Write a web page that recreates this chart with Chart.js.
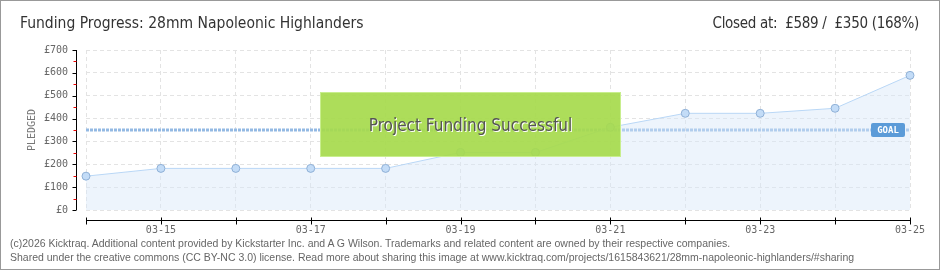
<!DOCTYPE html>
<html>
<head>
<meta charset="utf-8">
<script src="https://cdn.jsdelivr.net/npm/chart.js@4"></script>
<style>
	body { margin: 0; background: #fff; }
	#wrap { position: relative; width: 940px; height: 270px; overflow: hidden; }
	#chart { position: absolute; left: 0; top: 0; }
	#frame { position: absolute; inset: 0; border: 1px solid #999; box-sizing: border-box; pointer-events: none; }
	.title { position: absolute; top: 14px; font: 15.5px "Liberation Sans Narrow", "DejaVu Sans Condensed", sans-serif; color: #333; white-space: nowrap; }
	#title-left { left: 20px; }
	#title-right { right: 21px; font-size: 15px; letter-spacing: -0.3px; }
	.foot { position: absolute; left: 10px; font: 10.5px "Liberation Sans", sans-serif; color: #666; white-space: nowrap; }
	#success { position: absolute; left: 320px; top: 92px; width: 301px; height: 65px; box-sizing: border-box;
		background: rgba(166,218,76,0.92); border: 1px solid #c8ee8e;
		font: 17px "Liberation Sans Narrow", "DejaVu Sans Condensed", sans-serif; color: #555; text-shadow: 1px 1px 0 #fff;
		display: flex; align-items: center; justify-content: center; }
</style>
</head>
<body>
<div id="wrap">
	<canvas id="chart" width="940" height="270"></canvas>
	<div class="title" id="title-left">Funding Progress: 28mm Napoleonic Highlanders</div>
	<div class="title" id="title-right">Closed at: &nbsp;£589 / &nbsp;£350 (168%)</div>
	<div id="success">Project Funding Successful</div>
	<div class="foot" style="top:237px">(c)2026 Kicktraq. Additional content provided by Kickstarter Inc. and A G Wilson. Trademarks and related content are owned by their respective companies.</div>
	<div class="foot" style="top:251px">Shared under the creative commons (CC BY-NC 3.0) license. Read more about sharing this image at www.kicktraq.com/projects/1615843621/28mm-napoleonic-highlanders/#sharing</div>
	<div id="frame"></div>
</div>
<script>
// --- Dữ liệu ---
const days = ["03-14", "03-15", "03-16", "03-17", "03-18", "03-19", "03-20", "03-21", "03-22", "03-23", "03-24", "03-25"];
const pledged = [148, 182, 182, 182, 182, 252, 252, 362, 423, 423, 445, 589];
const goal = 350;
const yTicks = [0, 100, 200, 300, 400, 500, 600, 700];

const tickFont = { family: "DejaVu Sans Mono", size: 10 };

// trục kiểu kicktraq: lệch 10px khỏi vùng vẽ, vạch đỏ ở mốc 50
const axesPlugin = {
	id: "kickAxes",
	afterDraw(chart) {
		const { ctx, chartArea: a, scales: { x, y } } = chart;
		ctx.save();
		ctx.lineWidth = 1;
		ctx.strokeStyle = "#000";
		const ax = a.left - 10 + 0.5, ay = a.bottom + 10 + 0.5;
		ctx.beginPath();
		ctx.moveTo(ax, a.top); ctx.lineTo(ax, a.bottom);
		ctx.moveTo(a.left, ay); ctx.lineTo(a.right, ay);
		days.forEach((d, i) => {
			const px = Math.round(x.getPixelForValue(i)) + 0.5;
			ctx.moveTo(px, ay - 3); ctx.lineTo(px, ay + 4);
		});
		yTicks.forEach(v => {
			const py = Math.round(y.getPixelForValue(v)) + 0.5;
			ctx.moveTo(ax - 4, py); ctx.lineTo(ax, py);
		});
		ctx.stroke();
		ctx.strokeStyle = "#e00";
		ctx.beginPath();
		yTicks.slice(0, -1).forEach(v => {
			const py = Math.round(y.getPixelForValue(v + 50)) + 0.5;
			ctx.moveTo(ax - 3, py); ctx.lineTo(ax, py);
		});
		ctx.stroke();

		// nhãn GOAL
		const gy = y.getPixelForValue(goal);
		ctx.fillStyle = "#5b9bd8";
		ctx.beginPath();
		ctx.roundRect(871, Math.round(gy) - 7, 34, 14, 2);
		ctx.fill();
		ctx.fillStyle = "#fff";
		ctx.font = "bold 9px 'DejaVu Sans Mono'";
		ctx.textAlign = "center";
		ctx.textBaseline = "middle";
		ctx.fillText("GOAL", 888, Math.round(gy) + 0.5);
		ctx.restore();
	}
};

new Chart(document.getElementById("chart"), {
	type: "line",
	data: {
		labels: days,
		datasets: [
			{ label: "Goal", data: days.map(() => goal), borderColor: "#93b9e3", borderWidth: 3, borderDash: [3, 1], pointRadius: 0, fill: false, order: 2 },
			{ label: "Pledged", data: pledged, borderColor: "#b9d7f6", borderWidth: 1, backgroundColor: "rgba(214,231,249,0.45)", fill: "origin",
				pointRadius: 4, pointBackgroundColor: "#c3dcf7", pointBorderColor: "#8fb0d6", pointBorderWidth: 1, tension: 0, order: 1 }
		]
	},
	options: {
		responsive: false,
		animation: false,
		layout: { padding: { left: 0, right: 30, top: 50, bottom: 0 } },
		plugins: { legend: { display: false }, tooltip: { enabled: false } },
		scales: {
			x: {
				afterFit: (s) => { s.height = 60; },
				grid: { color: "#e3e3e3", drawTicks: false },
				border: { display: false, dash: [4, 3] },
				ticks: { autoSkip: false, maxRotation: 0, padding: 14, color: "#666", font: tickFont, callback: (v, i) => (i % 2 ? days[i] : "") }
			},
			y: {
				min: 0, max: 700,
				afterFit: (s) => { s.width = 86; },
				grid: { color: "#e3e3e3", drawTicks: false },
				border: { display: false, dash: [4, 3] },
				ticks: { stepSize: 100, padding: 18, color: "#666", font: tickFont, callback: (v) => "£" + v },
				title: { display: true, text: "PLEDGED", color: "#777", font: { family: "DejaVu Sans Mono", size: 10 }, padding: { top: 26 } }
			}
		}
	},
	plugins: [axesPlugin]
});
</script>
</body>
</html>
